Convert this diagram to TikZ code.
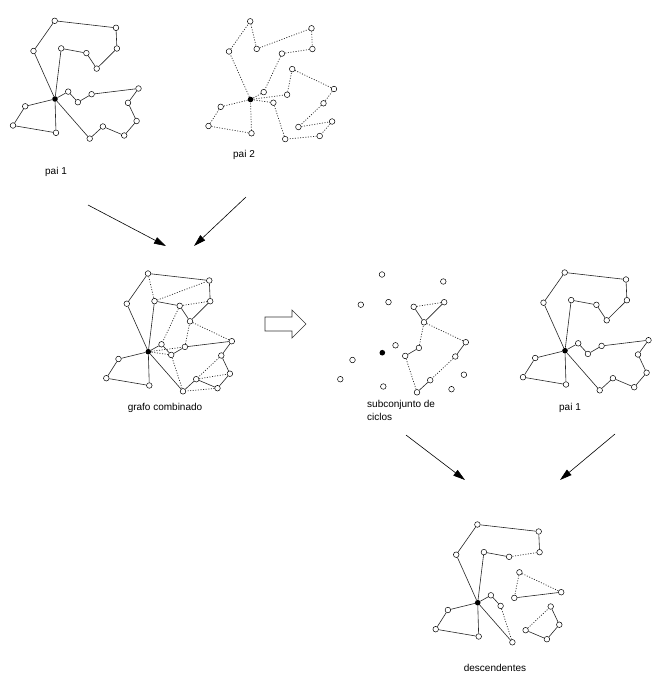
\documentclass[tikz,border=0pt]{standalone}
\usepackage{fontspec}
\setmainfont{Liberation Sans}
\usetikzlibrary{arrows.meta}
\tikzset{
 cust/.style={circle, draw=black, fill=white, line width=0.5pt, inner sep=0pt, minimum size=5.6pt},
 depot/.style={circle, fill=black, inner sep=0pt, minimum size=5.6pt},
 sol/.style={line width=0.6pt, black!85},
 dot/.style={line width=0.7pt, black!85, dash pattern=on 1pt off 1.6pt},
 arr/.style={line width=0.6pt, -{Triangle[length=12pt,width=7pt]}},
 lab/.style={font=\fontsize{10}{13}\selectfont, inner sep=0pt},
 blockarrow/.style={line width=0.6pt, draw=black!80, fill=white},
}
\newcommand\graphnodes[3]{%
 \begin{scope}[shift={(#2,#3)}]
 \node[depot] (#1D) at (55,99) {};
 \foreach \n/\x/\y in {A1/33.5/51, A2/54.7/20.8, A3/116/27.8, A4/116.9/48.5, A5/96.7/68.6,
   A6/86.4/53.1, A7/61.2/48.4, B1/68.2/91.6, B2/77.9/102.2, B3/91.6/94.2, B4/138.5/88.5,
   B5/128/102.8, B6/136.6/121, B7/124.2/135.5, B8/102.9/126.5, B9/89.7/138.6,
   C1/25.2/106.3, C2/13/125.5, C3/56/132.8}
   {\node[cust] (#1\n) at (\x,\y) {};}
 \end{scope}}
\newcommand\graphedges[3]{\foreach \a/\b in {#3}{\draw[#2] (#1\a) -- (#1\b);}}
\begin{document}
\begin{tikzpicture}[x=1pt,y=-1pt]
\fill[white] (0,0) rectangle (665,683);
\useasboundingbox (0,0) rectangle (665,683);
% pai 1
\graphnodes{a}{0}{0}
\graphedges{a}{sol}{D/A1, A1/A2, A2/A3, A3/A4, A4/A5, A5/A6, A6/A7, A7/D, D/B1, B1/B2, B2/B3, B3/B4, B4/B5, B5/B6, B6/B7, B7/B8, B8/B9, B9/D, D/C1, C1/C2, C2/C3, C3/D}
% pai 2
\graphnodes{b}{195.5}{0.5}
\graphedges{b}{dot}{D/A1, A1/A2, A2/A7, A7/A3, A3/A4, A4/A6, A6/B1, B1/D, D/B3, B3/A5, A5/B4, B4/B5, B5/B8, B8/B6, B6/B7, B7/B9, B9/B2, B2/D, D/C1, C1/C2, C2/C3, C3/D}
% grafo combinado
\graphnodes{c}{93.3}{252.7}
\graphedges{c}{dot}{A2/A7, A7/A3, A4/A6, A6/B1, D/B3, B3/A5, A5/B4, B5/B8, B8/B6, B7/B9, B9/B2, B2/D}
\graphedges{c}{sol}{D/A1, A1/A2, A2/A3, A3/A4, A4/A5, A5/A6, A6/A7, A7/D, D/B1, B1/B2, B2/B3, B3/B4, B4/B5, B5/B6, B6/B7, B7/B8, B8/B9, B9/D, D/C1, C1/C2, C2/C3, C3/D}
% subconjunto de ciclos
\graphnodes{d}{327.3}{253.7}
\graphedges{d}{dot}{A6/A4, A5/B4, B5/B8, B9/B2, B3/A5}
\graphedges{d}{sol}{A4/A5, A5/A6, B4/B5, B8/B9, B2/B3}
% pai 1 (segundo)
\graphnodes{e}{510}{251.7}
\graphedges{e}{sol}{D/A1, A1/A2, A2/A3, A3/A4, A4/A5, A5/A6, A6/A7, A7/D, D/B1, B1/B2, B2/B3, B3/B4, B4/B5, B5/B6, B6/B7, B7/B8, B8/B9, B9/D, D/C1, C1/C2, C2/C3, C3/D}
% descendentes
\graphnodes{f}{422.7}{503.7}
\graphedges{f}{dot}{A4/A6, B2/B9, A5/B4, A5/B3, B8/B5}
\graphedges{f}{sol}{D/A1, A1/A2, A2/A3, A3/A4, A6/A7, A7/D, D/B1, B1/B2, B9/D, B3/B4, B5/B6, B6/B7, B7/B8, D/C1, C1/C2, C2/C3, C3/D}
% labels
\node[lab] (l1) at (56,172) {pai 1};
\node[lab] (l2) at (244,155) {pai 2};
\node[lab] (l3) at (165,408) {grafo combinado};
\node[lab, align=left, anchor=north west] (l4) at (367,400) {subconjunto de\\ciclos};
\node[lab] (l5) at (570,408) {pai 1};
\node[lab] (l6) at (495,668) {descendentes};
% arrows
\coordinate (s1) at (88,205); \coordinate (t1) at (166,246);
\coordinate (s2) at (246,197); \coordinate (t2) at (194,246);
\coordinate (s3) at (406,435); \coordinate (t3) at (465,480);
\coordinate (s4) at (615,434); \coordinate (t4) at (560,480);
\draw[arr] (s1) -- (t1);
\draw[arr] (s2) -- (t2);
\draw[arr] (s3) -- (t3);
\draw[arr] (s4) -- (t4);
% block arrow
\draw[blockarrow] (265,317) -- (292,317) -- (292,310) -- (306,324) -- (292,338) -- (292,331) -- (265,331) -- cycle;
\end{tikzpicture}
\end{document}
